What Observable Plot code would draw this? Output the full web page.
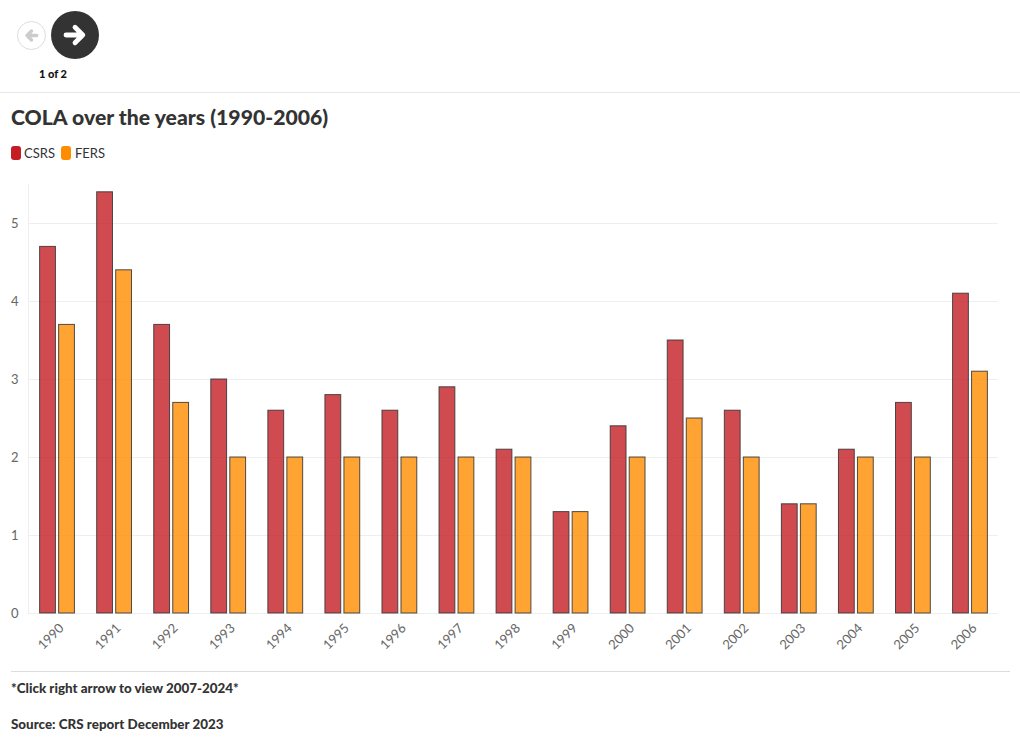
<!DOCTYPE html>
<html><head><meta charset="utf-8">
<script src="https://cdn.jsdelivr.net/npm/d3@7"></script>
<script src="https://cdn.jsdelivr.net/npm/@observablehq/plot@0.6"></script>
<style>
html,body{margin:0;padding:0;background:#fff;width:1020px;height:743px;overflow:hidden;font-family:Lato,sans-serif;color:#333}
#root{position:relative;width:1020px;height:743px}
.abs{position:absolute;white-space:nowrap}
.sw{position:absolute;width:10px;height:14px;border-radius:3px}
.foot{font-weight:900;font-size:13.4px;color:#333;left:11px;line-height:18px}
</style></head><body><div id="root">
<div class="abs" style="left:17px;top:21px;width:27px;height:27px;border:1px solid #ddd;border-radius:50%;background:#fff"></div>
<svg class="abs" style="left:24px;top:28px" width="15" height="15" viewBox="0 0 20 20"><path d="M17 10H5M10 4l-6 6 6 6" fill="none" stroke="#ccc" stroke-width="4.5" stroke-linecap="round" stroke-linejoin="round"/></svg>
<div class="abs" style="left:51px;top:11px;width:48px;height:48px;border-radius:50%;background:#333"></div>
<svg class="abs" style="left:63px;top:23px" width="24" height="24" viewBox="0 0 20 20"><path d="M2.5 10H15.5M10 3.5l6.5 6.5-6.5 6.5" fill="none" stroke="#fff" stroke-width="4" stroke-linecap="round" stroke-linejoin="round"/></svg>
<div class="abs" style="left:39px;top:66px;font-size:11px;font-weight:900;color:#111;line-height:16px" id="pg">1 of 2</div>
<div class="abs" style="left:0;top:92px;width:1020px;height:1px;background:#e8e8e8"></div>
<div class="abs" id="title" style="left:11px;top:103px;font-size:21.2px;font-weight:900;line-height:29px;color:#333">COLA over the years (1990-2006)</div>
<div class="sw" style="left:11px;top:146px;background:#c41e24"></div>
<div class="abs" style="left:24px;top:145px;font-size:13px;line-height:17px;color:#333">CSRS</div>
<div class="sw" style="left:61px;top:146px;background:#ff8c00"></div>
<div class="abs" style="left:75px;top:145px;font-size:13px;line-height:17px;color:#333">FERS</div>
<div class="abs" style="left:11px;top:671px;width:999px;height:1px;background:#ddd"></div>
<div class="abs foot" style="top:679px">*Click right arrow to view 2007-2024*</div>
<div class="abs foot" style="top:715px">Source: CRS report December 2023</div>
</div>
<script>
const years = [1990,1991,1992,1993,1994,1995,1996,1997,1998,1999,2000,2001,2002,2003,2004,2005,2006];
const csrs = [4.7,5.4,3.7,3.0,2.6,2.8,2.6,2.9,2.1,1.3,2.4,3.5,2.6,1.4,2.1,2.7,4.1];
const fers = [3.7,4.4,2.7,2.0,2.0,2.0,2.0,2.0,2.0,1.3,2.0,2.5,2.0,1.4,2.0,2.0,3.1];
const seriesNames = ["CSRS","FERS"];
const seriesColors = ["#c41e24","#ff8c00"];
const yTicks = [0,1,2,3,4,5];
const csrsRows = years.map((year,i)=>({year,series:seriesNames[0],value:csrs[i]}));
const fersRows = years.map((year,i)=>({year,series:seriesNames[1],value:fers[i]}));
const barOptions = {x:"year",y:"value",fill:"series",fillOpacity:0.8,stroke:"#333",strokeOpacity:0.85,strokeWidth:1,dx:0.5};
const chart = Plot.plot({
  width:1020,height:503,
  marginLeft:28,marginRight:22,marginTop:14,marginBottom:60,
  style:{fontFamily:'Lato,sans-serif',fontSize:"13px",color:"#555",background:"transparent"},
  x:{domain:years,paddingInner:0.39,paddingOuter:0.195,round:false,label:null,axis:null},
  y:{domain:[0,5.5],label:null,axis:null},
  color:{domain:seriesNames,range:seriesColors},
  marks:[
    Plot.ruleY(yTicks,{stroke:"#eee",strokeOpacity:1}),
    Plot.frame({anchor:"left",stroke:"#eee",strokeOpacity:1}),
    Plot.axisY({ticks:yTicks,tickSize:0,tickPadding:10,fill:"#666",label:null,tickFormat:d=>d}),
    Plot.axisX({anchor:"bottom",tickRotate:-45,tickSize:0,tickPadding:9,dx:1,fill:"#666",label:null,tickFormat:d=>String(d),lineAnchor:"top"}),
    Plot.barY(csrsRows,{...barOptions,insetRight:19}),
    Plot.barY(fersRows,{...barOptions,insetLeft:19})
  ]
});
chart.style.position="absolute";chart.style.left="0";chart.style.top="170px";
document.getElementById("root").appendChild(chart);
</script>
</body></html>
